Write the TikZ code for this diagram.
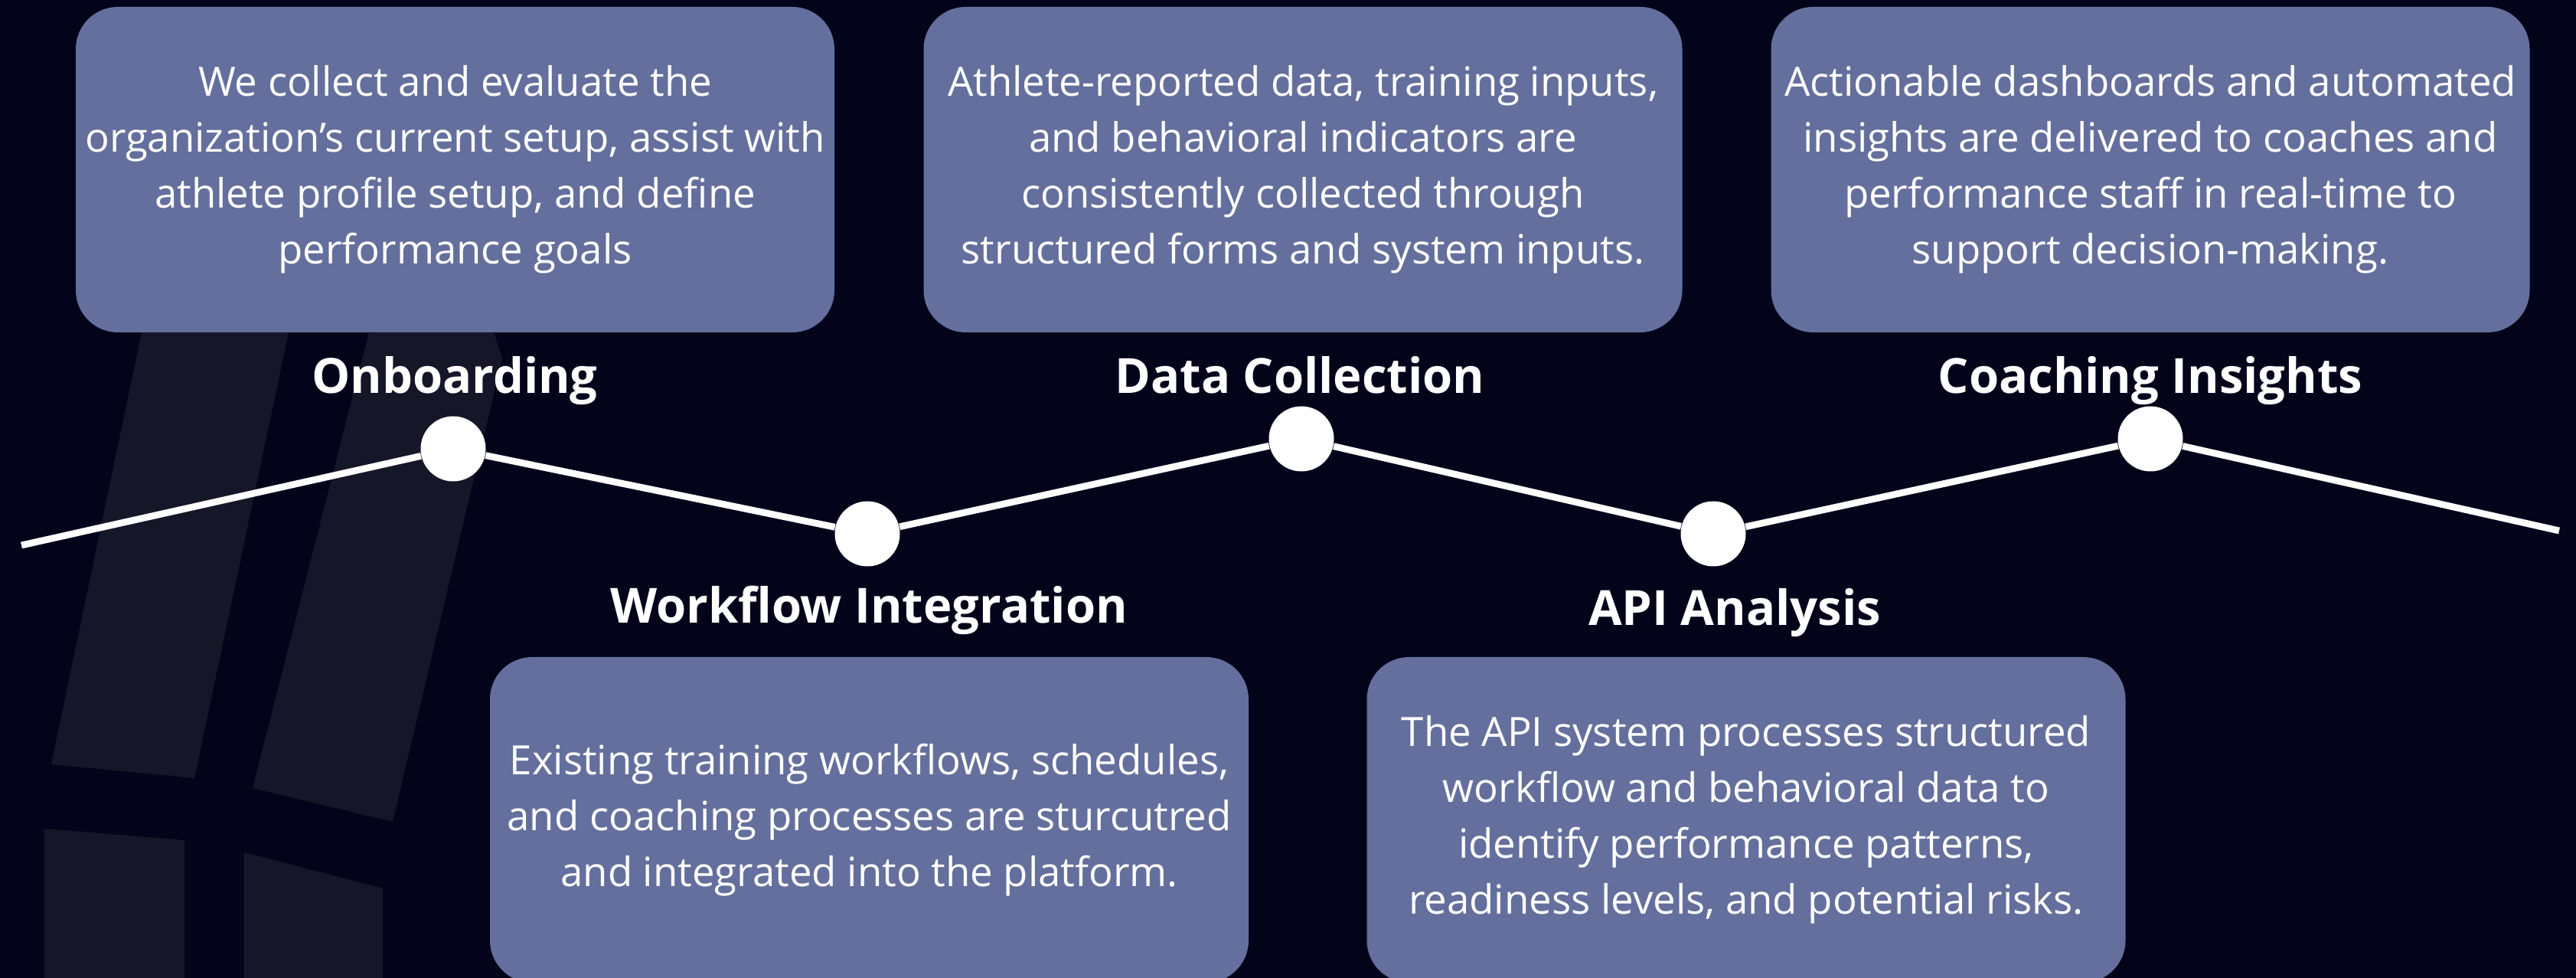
\documentclass[tikz,border=0pt]{standalone}
\usepackage{fontspec}
\setmainfont{Open Sans}
\usetikzlibrary{positioning}
\definecolor{nightbg}{HTML}{03041A}
\definecolor{shadeink}{HTML}{161629}
\definecolor{cardblue}{HTML}{646F9D}

\begin{document}
\begin{tikzpicture}[
  card/.style={fill=cardblue, rounded corners=0.55cm, minimum width=9.91cm, minimum height=4.25cm,
    align=center, text=white, inner sep=0pt, font=\fontsize{15}{20.8}\selectfont},
  stage/.style={text=white, text height=0.72em, text depth=0.22em, font=\fontsize{18}{22}\selectfont\bfseries},
  milestone/.style={circle, fill=white, minimum size=0.85cm, inner sep=0pt},
  track/.style={white, line width=2.5pt}
]
\useasboundingbox (0,0) rectangle (33.65,-12.77);
\clip (0,0) rectangle (33.65,-12.77);
\fill[nightbg] (0,0) rectangle (33.65,-12.77);

% backdrop stripes
\fill[shadeink] (1.85,-4.34) -- (3.77,-4.34) -- (2.54,-10.16) -- (0.67,-9.98) -- cycle;
\fill[shadeink] (4.82,-4.34) -- (6.45,-4.34) -- (6.56,-4.68) -- (5.13,-10.73) -- (3.30,-10.29) -- cycle;
\fill[shadeink] (0.58,-10.82) -- (2.41,-10.97) -- (2.41,-12.77) -- (0.58,-12.77) -- cycle;
\fill[shadeink] (3.19,-11.13) -- (5.00,-11.60) -- (5.00,-12.77) -- (3.19,-12.77) -- cycle;

% cards
\node[card] (onbox) at (5.945,-2.215) {We collect and evaluate the\\organization’s current setup, assist with\\athlete profile setup, and define\\performance goals};
\node[card] (databox) at (17.02,-2.215) {Athlete-reported data, training inputs,\\and behavioral indicators are\\consistently collected through\\structured forms and system inputs.};
\node[card] (coachbox) at (28.09,-2.215) {Actionable dashboards and automated\\insights are delivered to coaches and\\performance staff in real-time to\\support decision-making.};
\node[card] (flowbox) at (11.355,-10.705) {Existing training workflows, schedules,\\and coaching processes are sturcutred\\and integrated into the platform.};
\node[card] (apibox) at (22.81,-10.705) {The API system processes structured\\workflow and behavioral data to\\identify performance patterns,\\readiness levels, and potential risks.};

% titles
\node[stage] (ontitle) at (5.94,-5.05) {Onboarding};
\node[stage] (datatitle) at (16.98,-5.05) {Data Collection};
\node[stage] (coachtitle) at (28.09,-5.05) {Coaching Insights};
\node[stage] (flowtitle) at (11.35,-8.05) {Workflow Integration};
\node[stage] (apititle) at (22.66,-8.08) {API Analysis};

% timeline
\node[milestone] (m1) at (5.92,-5.86) {};
\node[milestone] (m2) at (11.33,-6.97) {};
\node[milestone] (m3) at (17.00,-5.73) {};
\node[milestone] (m4) at (22.38,-6.97) {};
\node[milestone] (m5) at (28.09,-5.73) {};
\coordinate (west) at (0.28,-7.12);
\coordinate (east) at (33.43,-6.93);
\draw[track] (west) -- (m1) -- (m2) -- (m3) -- (m4) -- (m5) -- (east);
\end{tikzpicture}
\end{document}
